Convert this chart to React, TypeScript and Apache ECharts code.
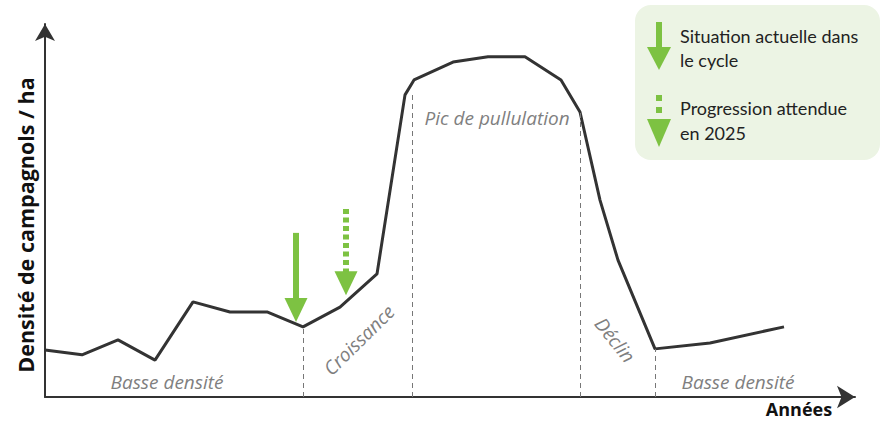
import React, { useEffect, useRef } from "react";
import * as echarts from "echarts";

// ---- Data (x: years, arbitrary units; y: density, arbitrary units) ----
const yearsX = [0, 3.7, 7.3, 11.0, 14.8, 18.5, 22.2, 25.8, 29.5, 33.2, 36.0, 36.9, 40.8, 44.3, 48.0, 51.6, 53.5, 55.5, 57.3, 61.0, 66.5, 73.9];
const density = [12.6, 11.3, 15.3, 9.9, 25.5, 22.8, 22.8, 18.8, 24.1, 33.0, 81.0, 85.0, 89.8, 91.2, 91.2, 85.0, 76.4, 52.8, 36.7, 12.9, 14.5, 18.8];

// phase boundaries (dashed verticals)
const boundaryX = [25.8, 36.7, 53.5, 61.0];
const boundaryTop = [18.8, 81.5, 76.4, 12.9];

// green arrows on the curve: x, top, tip, dashed(1)/solid(0)
const arrowX = [25.1, 30.1];
const arrowTop = [44.0, 50.4];
const arrowTip = [20.1, 27.3];
const arrowDashed = [0, 1];

const phaseLabels = ["Basse densité", "Croissance", "Pic de pullulation", "Déclin", "Basse densité"];
const yTitle = "Densité de campagnols / ha";
const xTitle = "Années";
const legendLines1 = ["Situation actuelle dans", "le cycle"];
const legendLines2 = ["Progression attendue", "en 2025"];

const GREEN = "#7DC242";
const GRAY = "#7f7f7f";
const LINE = "#333333";

export default function App() {
  const ref = useRef<HTMLDivElement>(null);
  useEffect(() => {
    if (!ref.current) return;
    const chart = echarts.init(ref.current, null, { renderer: "svg" });

    const lineData = yearsX.map((x, i) => [x, density[i]]);
    const arrowData = arrowX.map((x, i) => [x, arrowTop[i], arrowTip[i], arrowDashed[i]]);
    const markData = boundaryX.map((x, i) => [{ coord: [x, 0] }, { coord: [x, boundaryTop[i]] }]);

    const labelFont = { fontFamily: "Open Sans", fontStyle: "italic", fontSize: 19, fill: GRAY };
    const legendFont = { fontFamily: "Lato", fontSize: 18, fill: "#222", verticalAlign: "middle" };

    chart.setOption({
      animation: false,
      backgroundColor: "#ffffff",
      grid: { left: 45, right: 28, top: 24, bottom: 24 },
      xAxis: {
        type: "value",
        min: 0,
        max: 81,
        axisLine: {
          show: true,
          onZero: false,
          symbol: ["none", "arrow"],
          symbolSize: [17, 18],
          lineStyle: { color: LINE, width: 2 },
        },
        axisTick: { show: false },
        axisLabel: { show: false },
        splitLine: { show: false },
      },
      yAxis: {
        type: "value",
        min: 0,
        max: 100,
        axisLine: {
          show: true,
          onZero: false,
          symbol: ["none", "arrow"],
          symbolSize: [15, 17],
          lineStyle: { color: LINE, width: 2 },
        },
        axisTick: { show: false },
        axisLabel: { show: false },
        splitLine: { show: false },
      },
      series: [
        {
          type: "line",
          data: lineData,
          symbol: "none",
          lineStyle: { color: LINE, width: 3 },
          z: 3,
          markLine: {
            silent: true,
            symbol: ["none", "none"],
            label: { show: false },
            lineStyle: { color: "#777", width: 1, type: [5, 4] },
            data: markData,
          },
        },
        {
          type: "custom",
          data: arrowData,
          encode: { x: 0, y: [1, 2] },
          clip: false,
          z: 4,
          renderItem: (params: any, api: any) => {
            const x = api.value(0);
            const pTop = api.coord([x, api.value(1)]);
            const pTip = api.coord([x, api.value(2)]);
            const dashed = api.value(3) === 1;
            const headH = 24;
            const headW = 23;
            const base = pTip[1] - headH;
            const shaft = dashed
              ? {
                  type: "line",
                  shape: { x1: pTop[0], y1: pTop[1], x2: pTop[0], y2: base + 2 },
                  style: { stroke: GREEN, lineWidth: 6, lineDash: [5, 3.5] },
                }
              : {
                  type: "rect",
                  shape: { x: pTop[0] - 3, y: pTop[1], width: 6, height: base - pTop[1] + 1 },
                  style: { fill: GREEN },
                };
            return {
              type: "group",
              children: [
                shaft,
                {
                  type: "polygon",
                  shape: {
                    points: [
                      [pTop[0] - headW / 2, base],
                      [pTop[0] + headW / 2, base],
                      [pTip[0], pTip[1]],
                    ],
                  },
                  style: { fill: GREEN },
                },
              ],
            };
          },
        },
      ],
      graphic: [
        // axis titles
        {
          type: "text",
          x: 25,
          y: 225,
          rotation: Math.PI / 2,
          style: {
            text: yTitle,
            fontFamily: "Open Sans",
            fontWeight: "bold",
            fontSize: 21.5,
            fill: "#111",
            align: "center",
            verticalAlign: "middle",
          },
        },
        {
          type: "text",
          x: 799,
          y: 409,
          style: {
            text: xTitle,
            fontFamily: "Open Sans",
            fontWeight: "bold",
            fontSize: 18,
            fill: "#111",
            align: "center",
            verticalAlign: "middle",
          },
        },
        // phase labels
        { type: "text", x: 167, y: 382, style: { ...labelFont, text: phaseLabels[0], align: "center", verticalAlign: "middle" } },
        { type: "text", x: 359, y: 340, rotation: 0.78, style: { ...labelFont, text: phaseLabels[1], align: "center", verticalAlign: "middle" } },
        { type: "text", x: 497, y: 118, style: { ...labelFont, text: phaseLabels[2], align: "center", verticalAlign: "middle" } },
        { type: "text", x: 615, y: 340, rotation: -0.9, style: { ...labelFont, text: phaseLabels[3], align: "center", verticalAlign: "middle" } },
        { type: "text", x: 738, y: 382, style: { ...labelFont, text: phaseLabels[4], align: "center", verticalAlign: "middle" } },
        // legend box
        {
          type: "rect",
          shape: { x: 635, y: 5, width: 245, height: 155, r: 16 },
          style: { fill: "#ECF4E4" },
          z: 10,
        },
        { type: "rect", shape: { x: 656, y: 22, width: 6, height: 26 }, style: { fill: GREEN }, z: 11 },
        { type: "polygon", shape: { points: [[647, 47], [671, 47], [659, 70]] }, style: { fill: GREEN }, z: 11 },
        { type: "rect", shape: { x: 656, y: 95, width: 6, height: 6 }, style: { fill: GREEN }, z: 11 },
        { type: "rect", shape: { x: 656, y: 107, width: 6, height: 6 }, style: { fill: GREEN }, z: 11 },
        { type: "polygon", shape: { points: [[647, 119], [671, 119], [659, 147]] }, style: { fill: GREEN }, z: 11 },
        { type: "text", x: 680, y: 36, z: 11, style: { ...legendFont, text: legendLines1[0] } },
        { type: "text", x: 680, y: 60, z: 11, style: { ...legendFont, text: legendLines1[1] } },
        { type: "text", x: 680, y: 108, z: 11, style: { ...legendFont, text: legendLines2[0] } },
        { type: "text", x: 680, y: 133, z: 11, style: { ...legendFont, text: legendLines2[1] } },
      ],
    });
    return () => chart.dispose();
  }, []);
  return (
    <div
      ref={ref}
      style={{ position: "absolute", left: 0, top: 0, width: 883, height: 421 }}
    />
  );
}
